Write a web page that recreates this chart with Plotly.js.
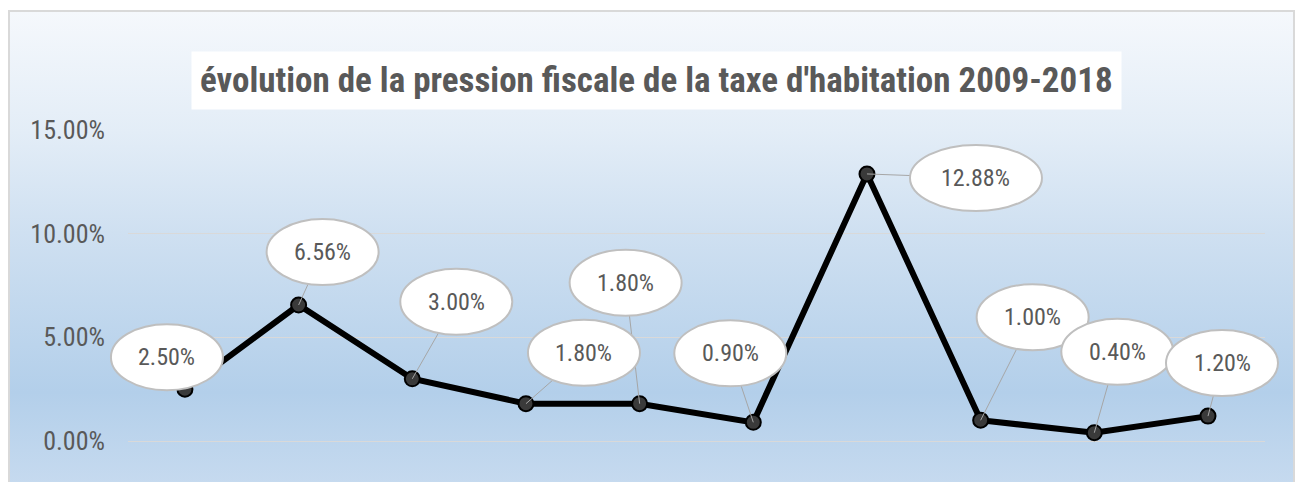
<!DOCTYPE html>
<html>
<head>
<meta charset="utf-8">
<script src="https://cdn.plot.ly/plotly-3.0.1.min.js"></script>
<style>
  body { margin: 0; background: #ffffff; }
  #frame {
    position: absolute; left: 8px; top: 10px; width: 1283px; height: 480px;
    border: 2px solid #d9d9d9; border-bottom: none;
    background: linear-gradient(to bottom, #f5f8fc 0px, #e3edf7 120px, #cfe0f1 220px, #b3cfea 380px, #c6daef 472px);
  }
  #plot { position: absolute; left: 0; top: 0; width: 1300px; height: 482px; }
</style>
</head>
<body>
<div id="frame"></div>
<div id="plot"></div>
<script>
// years 2009-2018 and the yearly change of the tax pressure (%)
let years = [2009, 2010, 2011, 2012, 2013, 2014, 2015, 2016, 2017, 2018];
let pression = [2.50, 6.56, 3.00, 1.80, 1.80, 0.90, 12.88, 1.00, 0.40, 1.20];
let yTicks = [0, 5, 10, 15];
let yTickText = ["0.00%", "5.00%", "10.00%", "15.00%"];

// where each data label bubble sits, in pixels from its point (right, up)
let labelDx = [-18, 24, 44, 58, -14, -23, 109, 52, 23, 14];
let labelDy = [32, 53, 77, 51, 121, 69, -4, 103, 81, 53];

let font = "'Liberation Sans Narrow', 'Arial Narrow', 'Roboto Condensed', sans-serif";

// empty trace so the grid / tick axes get their own subplot (drawn first, under the line)
let gridTrace = { x: [], y: [], xaxis: "x", yaxis: "y", hoverinfo: "skip" };

// the line lives on a wider subplot so the label bubbles are not clipped
let trace1 = {
    x: years,
    y: pression,
    xaxis: "x2",
    yaxis: "y2",
    type: "scatter",
    mode: "lines+markers",
    line: { color: "#000000", width: 6 },
    marker: { size: 15, color: "#3a3a3a", line: { color: "#000000", width: 2 } },
    cliponaxis: false,
    hoverinfo: "skip"
};

let shapes = [];
let annotations = [];

// leader lines first so the bubbles cover them
years.forEach(function (yr, i) {
    shapes.push({
        type: "line", xref: "x2", yref: "y2",
        xsizemode: "pixel", ysizemode: "pixel",
        xanchor: yr, yanchor: pression[i],
        x0: 0, y0: 0, x1: labelDx[i], y1: labelDy[i],
        line: { color: "#a6a6a6", width: 1 }
    });
});

years.forEach(function (yr, i) {
    let txt = pression[i].toFixed(2) + "%";
    let hw = txt.length > 5 ? 66 : 56;
    shapes.push({
        type: "circle", xref: "x2", yref: "y2",
        xsizemode: "pixel", ysizemode: "pixel",
        xanchor: yr, yanchor: pression[i],
        x0: labelDx[i] - hw, x1: labelDx[i] + hw,
        y0: labelDy[i] - 33, y1: labelDy[i] + 33,
        fillcolor: "#ffffff",
        line: { color: "#bfbfbf", width: 2 }
    });
    annotations.push({
        x: yr, y: pression[i], xref: "x2", yref: "y2",
        text: txt, showarrow: false,
        xshift: labelDx[i], yshift: labelDy[i],
        font: { family: font, size: 24, color: "#595959" }
    });
});

// title in its white box
annotations.push({
    xref: "paper", yref: "paper", x: 0.5004, y: 1.16,
    xanchor: "center", yanchor: "middle",
    text: "<b>évolution de la pression fiscale de la taxe d'habitation 2009-2018</b>",
    showarrow: false, bgcolor: "#ffffff", borderpad: 8,
    font: { family: font, size: 35, color: "#595959" }
});

var layout = {
    width: 1300,
    height: 482,
    margin: { l: 20, r: 8, t: 130, b: 41 },
    paper_bgcolor: "rgba(0,0,0,0)",
    plot_bgcolor: "rgba(0,0,0,0)",
    showlegend: false,
    // narrow axes: gridlines and percent labels
    xaxis: {
        domain: [0.0849, 0.9788],
        anchor: "y",
        range: [2008.5, 2018.5],
        visible: false
    },
    yaxis: {
        anchor: "x",
        range: [0, 15],
        tickvals: yTicks,
        ticktext: yTickText,
        showgrid: true,
        gridcolor: "#d9d9d9",
        gridwidth: 1,
        zeroline: true,
        zerolinecolor: "#d9d9d9",
        zerolinewidth: 1,
        ticklabelstandoff: 22,
        tickfont: { family: font, size: 26, color: "#595959" }
    },
    // wide axes: same scale, holds the line and the labels
    xaxis2: {
        domain: [0, 1],
        anchor: "y2",
        range: [2007.549, 2018.739],
        visible: false
    },
    yaxis2: {
        anchor: "x2",
        range: [0, 15],
        visible: false
    },
    shapes: shapes,
    annotations: annotations
};

Plotly.newPlot("plot", [gridTrace, trace1], layout, { displayModeBar: false, staticPlot: true });
</script>
</body>
</html>
